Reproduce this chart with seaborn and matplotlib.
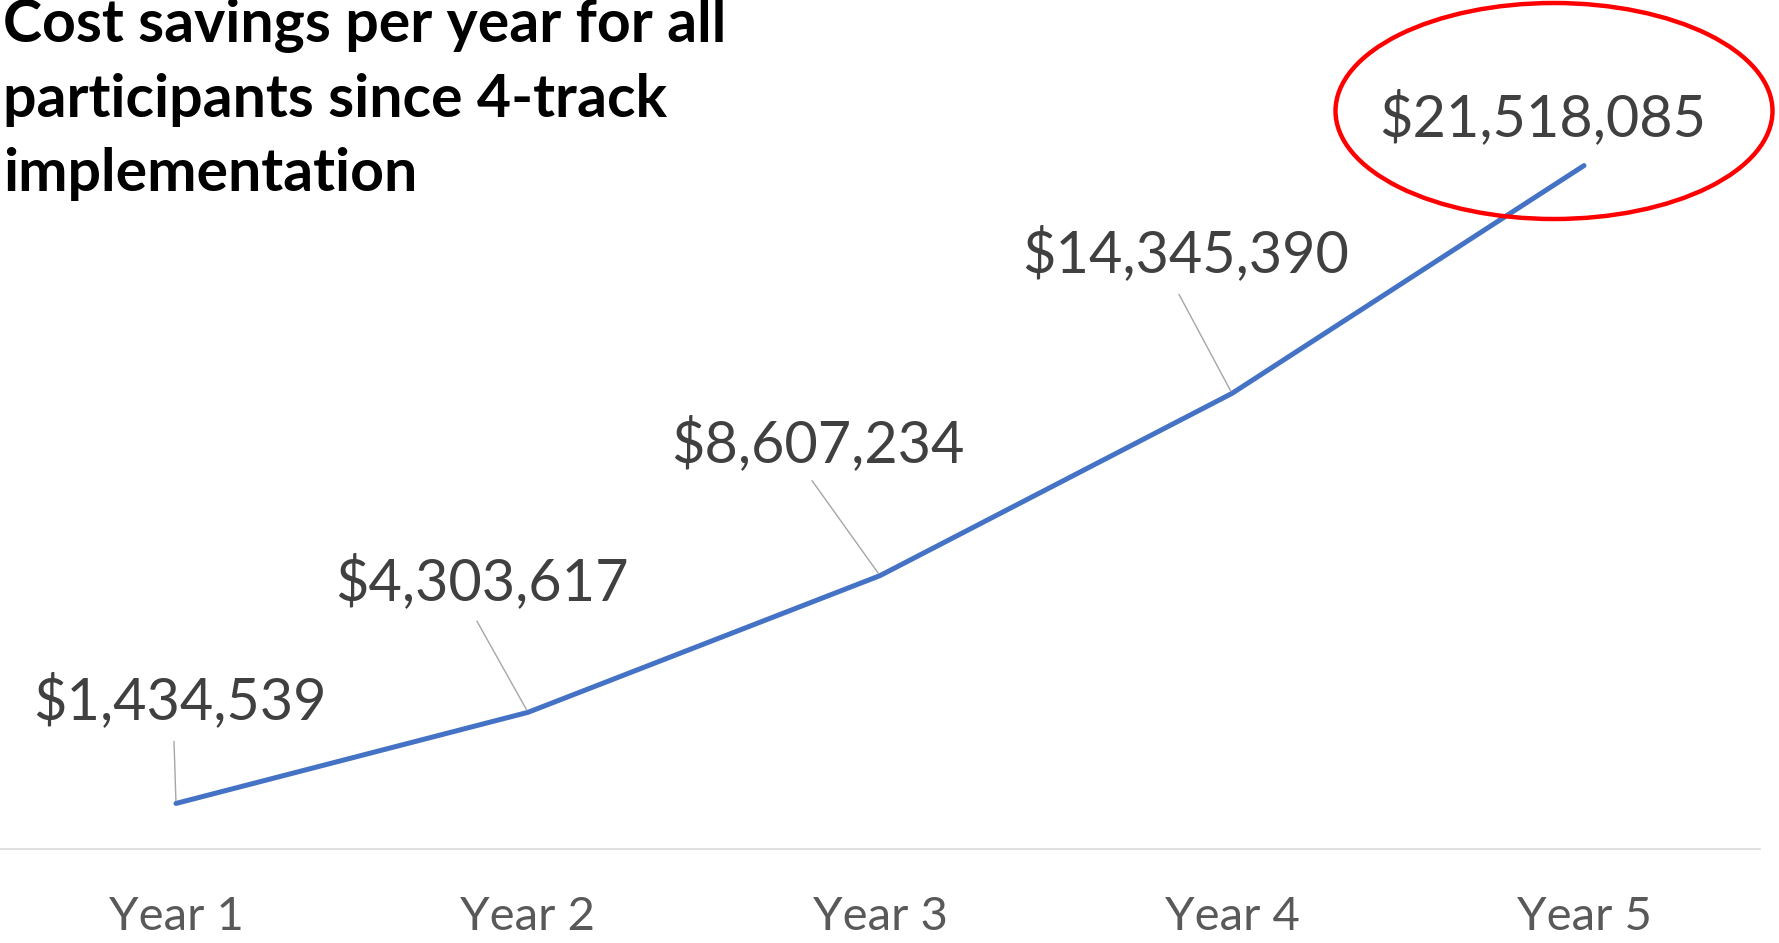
import matplotlib
matplotlib.use("Agg")
import matplotlib.pyplot as plt
import seaborn as sns
import pandas as pd
from matplotlib.patches import Ellipse

# ---- data ----
years = ["Year 1", "Year 2", "Year 3", "Year 4", "Year 5"]
savings = [1434539, 4303617, 8607234, 14345390, 21518085]
title_lines = ["Cost savings per year for all",
               "participants since 4-track",
               "implementation"]

# ---- layout (pixel offsets of labels / leaders relative to points) ----
label_offsets = [(4, 84), (-46, 112), (-62, 114), (-46, 121), (-41, 29)]
leader_offsets = [(-2, 62), (-51, 91), (-68, 95), (-53, 99), None]

W, H = 1779, 943
sns.set_theme(style="white")
plt.rcParams["font.family"] = ["Lato", "DejaVu Sans"]

fig = plt.figure(figsize=(W / 100, H / 100), dpi=100)
ax = fig.add_axes([0, (H - 849) / H, 1760 / W, (849 - 55) / H])

df = pd.DataFrame({"year": years, "savings": savings})
sns.lineplot(data=df, x="year", y="savings", ax=ax, color="#4472C4",
             linewidth=3.6, sort=False, solid_capstyle="round")

ax.set_xlim(-0.5, len(years) - 0.5)
ax.set_ylim(0, 25_000_000)
ax.set_xlabel("")
ax.set_ylabel("")
ax.set_yticks([])
for s in ["top", "left", "right"]:
    ax.spines[s].set_visible(False)
ax.spines["bottom"].set_color("#D9D9D9")
ax.spines["bottom"].set_linewidth(1.2)
ax.tick_params(axis="x", length=0, pad=34, labelsize=34, labelcolor="#595959")

for i, v in enumerate(savings):
    dx, dy = label_offsets[i]
    ax.annotate(f"${v:,.0f}", xy=(i, v), xytext=(dx, dy),
                textcoords="offset pixels", ha="center", va="baseline",
                fontsize=41.5, color="#404040", annotation_clip=False)
    if leader_offsets[i] is not None:
        lx, ly = leader_offsets[i]
        ax.annotate("", xy=(i, v), xytext=(lx, ly), textcoords="offset pixels",
                    arrowprops=dict(arrowstyle="-", color="#A6A6A6", lw=1.0,
                                    shrinkA=0, shrinkB=2),
                    annotation_clip=False)

# title
baselines = [42, 117, 191]
for line, b in zip(title_lines, baselines):
    fig.text(3 / W, (H - b) / H, line, ha="left", va="baseline",
             fontsize=42.5, fontweight="bold", color="black")

# red highlight ellipse
ell = Ellipse((1554 / W, (H - 111) / H), 437 / W, 216 / H,
              transform=fig.transFigure, fill=False, edgecolor="#FF0000",
              linewidth=3.2, clip_on=False)
fig.patches.append(ell)

fig.savefig("out.png", dpi=100)
